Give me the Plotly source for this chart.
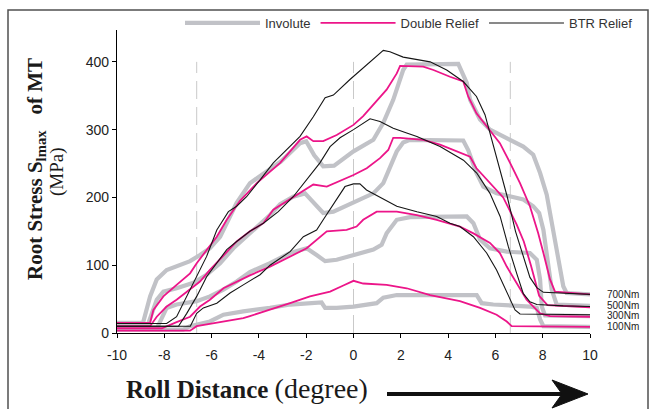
import plotly.graph_objects as go

# ---------------- data ----------------
x_ticks = [-10, -8, -6, -4, -2, 0, 2, 4, 6, 8, 10]
y_ticks = [0, 100, 200, 300, 400]
ref_lines_x = [-6.63, 0, 6.63]
ref_line_top = 400
load_labels = ["700Nm", "500Nm", "300Nm", "100Nm"]
load_label_y = [57.5, 40.5, 25.5, 9.5]

# Involute (gray)
inv700_x = [-10, -8.9, -8.6, -8.32, -7.9, -7.48, -6.91, -6.49, -6.07, -5.64, -4.94, -4.38, -3.53, -3.07, -2.26, -2.0, -1.66, -1.28, -0.82, 0.0, 0.84, 1.26, 1.68, 2.1, 2.25, 4.43, 4.79, 4.93, 5.35, 5.77, 6.33, 7.18, 7.6, 7.89, 8.17, 8.45, 8.66, 8.87, 9.01, 10]
inv700_y = [15, 15, 54, 79, 93, 98, 106, 115, 125, 142, 192, 221, 241, 253, 280, 283, 262, 246, 247, 268, 285, 310, 344, 388, 396, 397, 369, 344, 315, 300, 290, 275, 263, 236, 204, 148, 103, 69, 59, 57]
inv500_x = [-10, -8.7, -8.32, -8.04, -7.48, -6.77, -6.21, -5.64, -5.08, -4.66, -4.09, -3.53, -3.1, -2.55, -2.05, -1.7, -1.28, -0.85, 0.0, 0.84, 1.26, 1.54, 1.83, 2.1, 2.39, 4.64, 4.85, 5.2, 5.49, 6.05, 6.62, 7.18, 7.6, 7.85, 8.03, 8.24, 8.38, 8.59, 10]
inv500_y = [12, 12, 49, 61, 66, 74, 86, 103, 125, 138, 155, 174, 190, 201, 206, 192, 177, 179, 192, 206, 221, 246, 268, 281, 285, 284, 270, 236, 216, 206, 201, 197, 187, 177, 152, 103, 64, 42, 40]
inv300_x = [-10, -8.3, -7.9, -7.48, -6.63, -6.07, -5.5, -4.94, -4.38, -3.53, -2.68, -1.98, -1.56, -1.2, -0.71, 0.0, 0.84, 1.19, 1.4, 1.83, 2.39, 4.79, 5.07, 5.35, 5.77, 6.48, 7.46, 7.75, 7.89, 7.96, 8.1, 10]
inv300_y = [8, 8, 37, 42, 47, 54, 64, 76, 90, 103, 118, 125, 115, 106, 108, 115, 123, 130, 147, 167, 171, 172, 162, 138, 125, 120, 118, 108, 79, 39, 26, 25]
inv100_x = [-10, -7.2, -6.91, -6.07, -5.5, -4.66, -3.53, -2.68, -1.35, -1.2, -0.71, 0.0, 0.98, 1.26, 1.83, 5.21, 5.42, 5.91, 7.46, 7.75, 7.89, 8.03, 10]
inv100_y = [5, 5, 10, 17, 27, 32, 37, 42, 45, 37, 37, 39, 44, 52, 56, 56, 44, 42, 39, 37, 20, 10, 9]

# Double Relief (pink)
dbl700_x = [-10, -8.6, -8.46, -8.04, -7.48, -6.91, -6.63, -6.21, -5.78, -5.36, -4.8, -4.09, -3.1, -2.26, -1.98, -1.7, -1.28, -0.71, 0.0, 0.41, 0.98, 1.4, 1.83, 1.97, 2.95, 3.38, 4.08, 4.64, 4.85, 5.2, 5.63, 6.19, 6.62, 7.04, 7.46, 7.81, 8.03, 8.31, 8.52, 10]
dbl700_y = [15, 15, 34, 54, 71, 88, 103, 123, 142, 167, 195, 221, 251, 285, 290, 283, 283, 292, 307, 320, 342, 359, 383, 394, 393, 388, 378, 371, 349, 324, 305, 280, 251, 221, 187, 147, 118, 79, 61, 57]
dbl500_x = [-10, -8.6, -8.32, -7.9, -7.48, -6.91, -6.49, -6.07, -5.5, -4.94, -4.38, -3.81, -3.39, -2.26, -1.7, -1.13, -0.57, 0.0, 0.56, 1.12, 1.47, 1.68, 1.97, 2.95, 3.66, 4.36, 4.93, 5.2, 5.77, 6.33, 6.9, 7.2, 7.5, 7.85, 8.2, 10]
dbl500_y = [10, 10, 24, 39, 49, 64, 76, 93, 115, 135, 150, 162, 182, 206, 219, 216, 224, 233, 243, 258, 270, 288, 288, 285, 278, 268, 260, 243, 221, 200, 160, 135, 100, 55, 41, 38]
dbl300_x = [-10, -8.1, -7.48, -6.91, -6.49, -6.07, -5.5, -4.94, -4.38, -3.53, -2.68, -1.98, -1.13, -0.29, 0.13, 0.41, 0.98, 1.83, 2.68, 3.52, 4.5, 5.07, 5.77, 6.19, 6.48, 6.9, 7.32, 7.89, 8.31, 10]
dbl300_y = [7, 7, 16, 24, 39, 49, 66, 76, 85, 98, 113, 125, 150, 152, 157, 167, 179, 179, 174, 167, 157, 147, 133, 118, 98, 74, 49, 29, 25, 24]
dbl100_x = [-10, -6.91, -6.63, -5.78, -4.66, -4.38, -3.53, -2.68, -1.84, -0.99, -0.43, 0.0, 0.41, 1.4, 2.25, 3.24, 4.08, 4.5, 5.35, 6.05, 6.48, 6.69, 10]
dbl100_y = [3.5, 3.5, 10, 15, 22, 25, 34, 44, 54, 61, 70, 77, 73, 71, 66, 56, 50, 47, 37, 27, 17, 10, 9]

# BTR Relief (black)
btr700_x = [-10, -7.9, -7.48, -7.05, -6.63, -6.21, -5.78, -5.29, -4.94, -4.52, -3.95, -3.39, -2.26, -1.7, -1.2, -0.85, -0.15, 0.41, 1.26, 1.54, 2.1, 3.24, 3.94, 4.64, 5.2, 5.56, 5.85, 6.2, 6.5, 6.85, 7.15, 7.46, 7.75, 8.03, 10]
btr700_y = [14, 14, 24, 54, 83, 113, 152, 179, 187, 201, 226, 251, 290, 319, 347, 351, 374, 391, 417, 415, 407, 400, 388, 371, 349, 322, 285, 240, 201, 150, 118, 82, 67, 60, 57]
btr500_x = [-10, -7.4, -7.05, -6.63, -6.21, -5.78, -5.36, -4.94, -4.38, -3.81, -3.18, -2.55, -1.98, -1.42, -0.99, -0.57, 0.0, 0.41, 0.7, 1.12, 1.68, 2.25, 2.68, 3.66, 4.65, 5.21, 5.77, 6.2, 6.55, 6.9, 7.18, 7.46, 7.75, 8.87, 10]
btr500_y = [10, 10, 29, 54, 83, 103, 123, 135, 150, 162, 179, 201, 226, 251, 275, 288, 300, 310, 316, 312, 302, 295, 290, 275, 255, 236, 206, 172, 127, 88, 58, 46, 42, 40, 39]
btr300_x = [-10, -6.9, -6.63, -6.35, -5.78, -5.22, -4.66, -3.95, -3.53, -2.68, -2.12, -1.56, -1.28, -0.71, -0.36, 0.0, 0.27, 0.55, 1.26, 1.83, 2.68, 3.52, 4.08, 4.5, 5.07, 5.63, 6.05, 6.48, 6.83, 7.04, 10]
btr300_y = [10, 10, 29, 37, 44, 59, 71, 86, 100, 120, 142, 152, 167, 197, 216, 220, 220, 211, 197, 187, 179, 172, 162, 157, 142, 118, 93, 59, 34, 28, 27]

# ---------------- layout geometry (pixels) ----------------
W, H = 657, 409
PL, PR = 117, 590          # plot area left / right
PAPER_TOP, PB = 5, 333     # paper top (margin t) and plot bottom
AXIS_TOP = 30              # top of the y axis line
Y_MAX = 447
Y_DOMAIN_TOP = (PB - AXIS_TOP) / (PB - PAPER_TOP)


def px(xp):
    return (xp - PL) / (PR - PL)


def py(yp):
    return (PB - yp) / (PB - PAPER_TOP)


GRAY = "#c1c2c7"
PINK = "#ec1589"
BLACK = "#151515"

fig = go.Figure()

series = [
    ("Involute", GRAY, 4.2, [(inv700_x, inv700_y), (inv500_x, inv500_y), (inv300_x, inv300_y), (inv100_x, inv100_y)]),
    ("Double Relief", PINK, 1.8, [(dbl700_x, dbl700_y), (dbl500_x, dbl500_y), (dbl300_x, dbl300_y), (dbl100_x, dbl100_y)]),
    ("BTR Relief", BLACK, 1.1, [(btr700_x, btr700_y), (btr500_x, btr500_y), (btr300_x, btr300_y)]),
]

for name, color, width, curves in series:
    for i, (xs, ys) in enumerate(curves):
        fig.add_trace(go.Scatter(
            x=xs, y=ys, mode="lines", name=name, legendgroup=name,
            showlegend=(i == 0), line=dict(color=color, width=width),
            hoverinfo="skip"))

shapes = []
for xv in ref_lines_x:
    shapes.append(dict(type="line", xref="x", yref="y", x0=xv, x1=xv, y0=0, y1=ref_line_top,
                       line=dict(color="#c9c9c9", width=1, dash="18px,8px"), layer="below"))
# outer frame
shapes.append(dict(type="rect", xref="paper", yref="paper",
                   x0=px(8), x1=px(648), y0=py(418), y1=py(10),
                   line=dict(color="#505050", width=1.5)))
# arrow under x title
shapes.append(dict(type="line", xref="paper", yref="paper",
                   x0=px(387), x1=px(566), y0=py(394), y1=py(394),
                   line=dict(color="#111111", width=4)))
shapes.append(dict(type="path", xref="paper", yref="paper",
                   path=f"M{px(588)},{py(394)} L{px(552)},{py(380)} L{px(562)},{py(394)} L{px(552)},{py(408)} Z",
                   fillcolor="#111111", line=dict(color="#111111", width=1)))

annotations = []
for lab, yv in zip(load_labels, load_label_y):
    annotations.append(dict(x=px(605), xref="paper", y=yv, yref="y", text=lab, showarrow=False,
                            xanchor="left", yanchor="middle",
                            font=dict(family="Arial, Liberation Sans", size=10, color="#222222")))
annotations.append(dict(x=px(124), xref="paper", y=py(388), yref="paper",
                        text="<b>Roll Distance</b> <span style='font-size:28px'>(degree)</span>", showarrow=False,
                        xanchor="left", yanchor="middle",
                        font=dict(family="Times New Roman, Liberation Serif", size=25, color="#1a1a1a")))
annotations.append(dict(x=px(36), xref="paper", y=py(169), yref="paper",
                        text="<b>Root Stress S<sub>lmax</sub>\u00a0\u00a0\u00a0of MT</b>", showarrow=False,
                        textangle=-90, xanchor="center", yanchor="middle",
                        font=dict(family="Times New Roman, Liberation Serif", size=21, color="#1a1a1a")))
annotations.append(dict(x=px(57), xref="paper", y=py(172), yref="paper",
                        text="(MPa)", showarrow=False,
                        textangle=-90, xanchor="center", yanchor="middle",
                        font=dict(family="Times New Roman, Liberation Serif", size=19, color="#1a1a1a")))

fig.update_layout(
    width=W, height=H,
    margin=dict(l=PL, r=W - PR, t=PAPER_TOP, b=H - PB, pad=0),
    paper_bgcolor="white", plot_bgcolor="white",
    showlegend=True,
    legend=dict(orientation="h", x=px(180), xanchor="left", y=py(8), yanchor="top",
                itemwidth=75, font=dict(family="Arial, Liberation Sans", size=13, color="#333333"),
                bgcolor="rgba(0,0,0,0)", tracegroupgap=0),
    shapes=shapes, annotations=annotations,
    xaxis=dict(range=[-10, 10], tickvals=x_ticks, ticktext=[str(v) for v in x_ticks],
               showgrid=False, zeroline=False, showline=True, linecolor="black", linewidth=1.3,
               ticks="outside", ticklen=4, tickwidth=1.2, tickcolor="black", ticklabelstandoff=5,
               tickfont=dict(family="Arial, Liberation Sans", size=14, color="#222222")),
    yaxis=dict(range=[0, Y_MAX], domain=[0, Y_DOMAIN_TOP], tickvals=y_ticks, ticktext=[str(v) for v in y_ticks],
               showgrid=False, zeroline=False, showline=True, linecolor="black", linewidth=1.3,
               ticks="outside", ticklen=4, tickwidth=1.2, tickcolor="black",
               tickfont=dict(family="Arial, Liberation Sans", size=14, color="#222222")),
)

fig.write_html("out.html", config={"displayModeBar": False},
               post_script="document.body.style.margin='0px';")
